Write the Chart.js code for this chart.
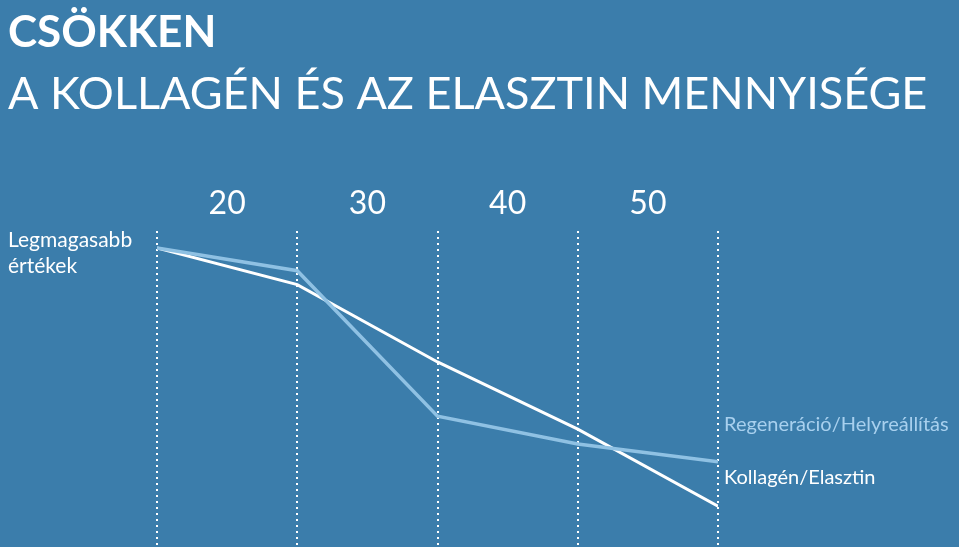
<!DOCTYPE html>
<html><head><meta charset="utf-8">
<script src="https://cdn.jsdelivr.net/npm/chart.js@4"></script>
<style>html,body{margin:0;padding:0;background:#3b7dab;overflow:hidden}</style>
</head><body>
<canvas id="c" width="959" height="547"></canvas>
<script>
// ---- data ----
const titleText = 'CSÖKKEN';
const subtitleText = 'A KOLLAGÉN ÉS AZ ELASZTIN MENNYISÉGE';
const ageLabels = ['20', '30', '40', '50'];
const points = [0, 1, 2, 3, 4];
const kollagenValues = [94.7, 83.1, 58.6, 37.3, 12.9];
const regeneracioValues = [94.7, 87.5, 41.4, 32.6, 27.0];
const seriesNames = ['Kollagén/Elasztin', 'Regeneráció/Helyreállítás'];
const yNote = ['Legmagasabb', 'értékek'];

const FONT = 'Lato, "Open Sans", sans-serif';
const WHITE = '#ffffff';
const LIGHT = '#8fc1e3';
const LIGHT_TEXT = '#a8d0ee';

const labelsPlugin = {
  id: 'seriesLabels',
  afterDatasetsDraw(chart) {
    const ctx = chart.ctx;
    const ys = chart.scales.y;
    const ca = chart.chartArea;
    ctx.save();
    ctx.textBaseline = 'middle';
    ctx.textAlign = 'left';
    ctx.font = '21px ' + FONT;
    // left note
    ctx.fillStyle = WHITE;
    ctx.fillText(yNote[0], 8, ys.getPixelForValue(97.2));
    ctx.fillText(yNote[1], 8, ys.getPixelForValue(89.0));
    // series labels at right end
    ctx.font = '20px ' + FONT;
    ctx.fillStyle = LIGHT_TEXT;
    ctx.fillText(seriesNames[1], ca.right + 6, ys.getPixelForValue(38.9));
    ctx.fillStyle = WHITE;
    ctx.fillText(seriesNames[0], ca.right + 6, ys.getPixelForValue(21.9));
    ctx.restore();
  }
};

new Chart(document.getElementById('c'), {
  type: 'line',
  data: {
    datasets: [
      {
        label: seriesNames[1],
        data: points.map((x, i) => ({x, y: regeneracioValues[i]})),
        borderColor: LIGHT, borderWidth: 3.5, pointRadius: 0, tension: 0
      },
      {
        label: seriesNames[0],
        data: points.map((x, i) => ({x, y: kollagenValues[i]})),
        borderColor: WHITE, borderWidth: 3, pointRadius: 0, tension: 0
      }
    ]
  },
  options: {
    responsive: false,
    devicePixelRatio: 1,
    animation: false,
    layout: {padding: {left: 8, right: 0, top: 0, bottom: 0}},
    plugins: {
      legend: {display: false},
      tooltip: {enabled: false},
      title: {
        display: true, text: titleText, align: 'start', color: WHITE,
        font: {family: FONT, size: 44, weight: 'bold'},
        padding: {top: 6, bottom: 0}
      },
      subtitle: {
        display: true, text: subtitleText, align: 'start', color: WHITE,
        font: {family: FONT, size: 45, weight: 'normal'},
        padding: {top: 9, bottom: 63}
      }
    },
    scales: {
      x: {
        type: 'linear', position: 'top', min: 0, max: 4,
        grid: {display: false}, border: {display: false},
        afterBuildTicks: s => { s.ticks = ageLabels.map((_, i) => ({value: i + 0.5})); },
        ticks: {
          color: WHITE, padding: 0,
          font: {family: FONT, size: 32},
          callback: v => ageLabels[Math.floor(v)]
        }
      },
      x2: {
        type: 'linear', position: 'top', min: 0, max: 4,
        afterBuildTicks: s => { s.ticks = points.map(v => ({value: v})); },
        ticks: {display: false},
        grid: {display: true, color: WHITE, lineWidth: 2, drawTicks: false},
        border: {display: false, dash: [2, 4]}
      },
      y: {
        min: 0, max: 100,
        ticks: {display: false}, grid: {display: false}, border: {display: false},
        afterFit: s => { s.width = 149; }
      },
      y2: {
        position: 'right', min: 0, max: 100,
        ticks: {display: false}, grid: {display: false}, border: {display: false},
        afterFit: s => { s.width = 241; }
      }
    }
  },
  plugins: [labelsPlugin]
});
</script>
</body></html>
